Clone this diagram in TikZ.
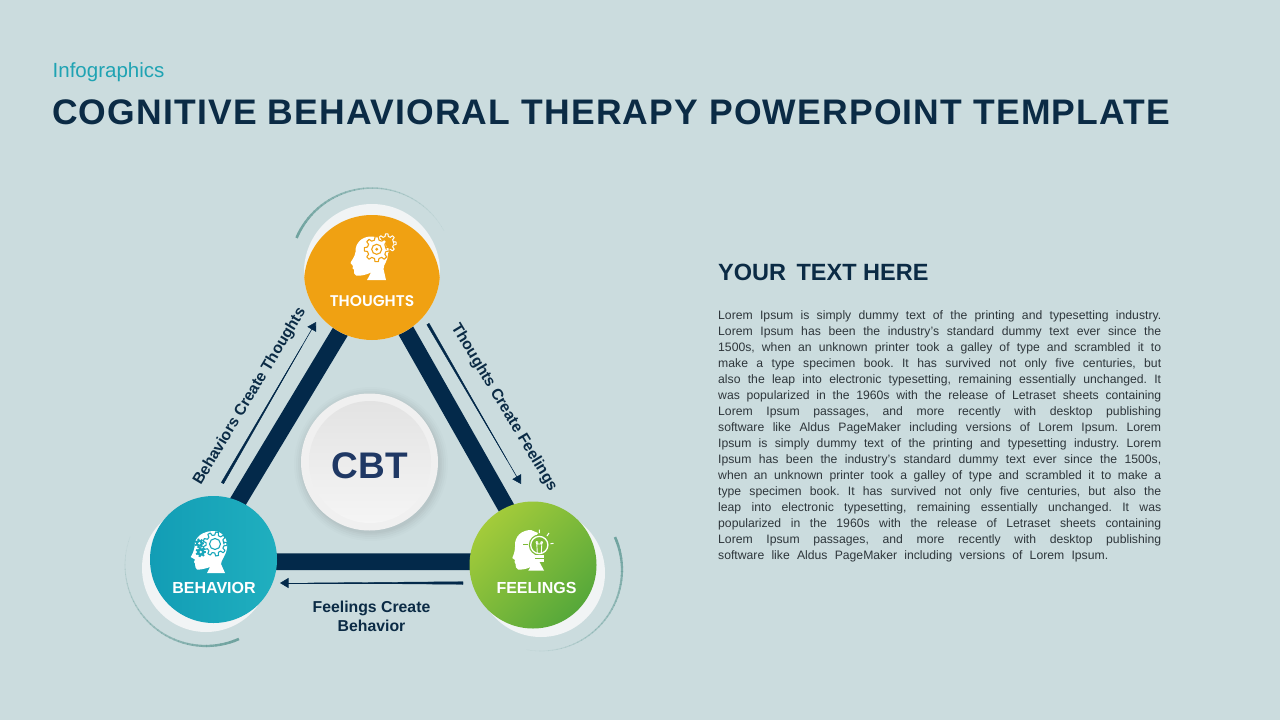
\documentclass[tikz,border=0pt]{standalone}
\usepackage{fontspec}
\setmainfont{Liberation Sans}
\newfontfamily\titlefont[LetterSpace=3.3]{Liberation Sans}
\newfontfamily\popfont[BoldFont={Poppins SemiBold}]{Poppins}
\usetikzlibrary{arrows.meta,calc}
\frenchspacing
\definecolor{bgc}{HTML}{CBDCDE}
\definecolor{navy}{HTML}{03294A}
\definecolor{titlec}{HTML}{0B2B45}
\definecolor{tealt}{HTML}{1FA3B3}
\definecolor{arcc}{HTML}{6FA39F}
\definecolor{bodyc}{HTML}{2E363B}
\definecolor{cbtc}{HTML}{1F3864}
\definecolor{orangec}{HTML}{F0A112}
\definecolor{tealc}{HTML}{17A6BA}
\definecolor{greenc}{HTML}{7DBB37}
\definecolor{greena}{HTML}{A3CB3A}
\definecolor{greenb}{HTML}{56A83A}
\definecolor{teala}{HTML}{129DB5}
\definecolor{tealb}{HTML}{20AFBF}
\definecolor{crescent}{HTML}{F1F4F5}
\tikzset{
  bar/.style={draw=navy,line width=16.8pt,shorten >=-5pt,shorten <=-5pt},
  thinarrow/.style={draw=navy,line width=0.6pt,-{Triangle[length=8.5pt,width=10pt]}},
  taper/.style={fill=navy,draw=navy,line width=0.4pt,line join=round},
  relabel/.style={font=\bfseries\fontsize{15.6}{19}\selectfont,text=titlec,inner sep=0pt},
  disc/.style={circle,inner sep=0pt,minimum size=#1},
  capname/.style={font=\bfseries\fontsize{16}{18}\selectfont,text=white,inner sep=0pt},
  iconfill/.style={fill=white,draw=none},
}
\newcommand{\jl}[1]{\hbox to 443pt{#1}}
\newcommand{\fadearc}[5]{%
  \foreach \i in {0,...,39}{%
    \pgfmathsetmacro{\aa}{#4+(#5-#4)*\i/40}%
    \pgfmathsetmacro{\ab}{#4+(#5-#4)*(\i+1.15)/40}%
    \pgfmathsetmacro{\op}{max(0.08,1-\i/40)}%
    \pgfmathsetmacro{\lw}{max(0.5,2.6-2.2*\i/40)}%
    \draw[arcc,opacity=\op,line width=\lw pt] ($(#1,#2)+(\aa:#3)$) -- ($(#1,#2)+(\ab:#3)$);
  }}
\newcommand{\gear}[8]{%
  \begin{scope}[shift={(#1,#2)}]
    \pgfmathsetmacro{\st}{360/#5}
    \draw[fill=#6,draw=#7,line width=#8pt,line join=round] (0:#4)
      \foreach \k in {1,...,#5}{
        \pgfextra{\pgfmathsetmacro{\t}{(\k-1)*\st}}
        -- (\t-0.30*\st:#4) -- (\t-0.17*\st:#3) -- (\t+0.17*\st:#3) -- (\t+0.30*\st:#4)
      } -- cycle;
  \end{scope}}
\newcommand{\headpath}{%
  (15.5,27) .. controls (15,18) and (22,11.5) .. (31,11.5) .. controls (40,11.5) and (48,18) .. (48,29)
  .. controls (48,36) and (43.5,39) .. (43.5,44) -- (46,55) -- (27,55)
  .. controls (28.5,52) and (30,50) .. (31,47.5) .. controls (27,49.5) and (20,51.5) .. (16,50.5)
  .. controls (13.5,50) and (14,47) .. (14,44.5) -- (12.5,43.5) -- (13,41) -- (12,39.8)
  -- (10.5,38) .. controls (11,36) and (15,32) .. (15.5,27) -- cycle}
\begin{document}
\begin{tikzpicture}[x=1pt,y=-1pt]
\useasboundingbox (0,0) rectangle (1280,720);
\fill[bgc] (0,0) rectangle (1280,720);

% heading
\node[anchor=base west,inner sep=0pt,text=tealt,font=\fontsize{20.5}{22}\selectfont] (kicker) at (52.5,77) {Infographics};
\node[anchor=base west,inner sep=0pt,text=titlec,font=\titlefont\bfseries\fontsize{35.5}{38}\selectfont] (title) at (52,124.5) {COGNITIVE BEHAVIORAL THERAPY POWERPOINT TEMPLATE};

% decorative arcs
\fadearc{372}{270}{82}{-157}{-29}{2.6}
\fadearc{206}{565}{81}{66}{200}{2.6}
\fadearc{541}{570}{81}{-24}{100}{2.6}

% anchors only, discs are painted later
\node[disc=136pt] (thoughts) at (372,272) {};
\node[disc=127pt] (behavior) at (213.5,559.5) {};
\node[disc=127pt] (feelings) at (533,565) {};

% bars
\draw[bar] (thoughts.242) -- (behavior.67);
\draw[bar] (thoughts.300) -- (feelings.115);
\draw[bar] (behavior.-2) -- (feelings.177);

% thoughts disc
\fill[crescent] (372,272) circle[radius=68];
\begin{scope}
  \clip (372,272) circle[radius=68];
  \fill[orangec] (372,283) circle[radius=68];
\end{scope}

% behavior disc
\fill[crescent] (206,568) circle[radius=64];
\shade[left color=teala,right color=tealb] (213.5,559.5) circle[radius=63.5];

% feelings disc
\fill[crescent] (541,573) circle[radius=64];
\shade[top color=greena,bottom color=greenb,shading angle=45] (533,565) circle[radius=63.5];

% CBT
\foreach \r/\o in {77/0.012,75/0.015,73/0.018,71/0.02,69.5/0.025}{
  \fill[black,opacity=\o] (371,464) circle[radius=\r];
}
\node[disc=137pt,fill=black!6] (cbt) at (369.5,462) {};
\shade[top color=black!11,bottom color=black!4] (370,462) circle[radius=61];
\node[inner sep=0pt,text=cbtc,font=\bfseries\fontsize{37}{40}\selectfont] (cbtlabel) at (370,466) {CBT};

% thoughts icon
\begin{scope}[shift={(340,225)}]
  \gear{46.7}{18.3}{9.5}{7}{8}{orangec}{white}{1}
  \fill[iconfill] \headpath;
  \gear{36.7}{24.3}{12.5}{9.5}{8}{white}{orangec}{1.1}
  \draw[orangec,line width=1.1pt] (36.7,24.3) circle[radius=5];
  \fill[orangec] (36.7,24.3) circle[radius=1.6];
\end{scope}
% behavior icon
\begin{scope}[shift={(180,520)}]
  \fill[iconfill] (15,22) .. controls (18,14) and (26,11) .. (33,11) .. controls (42,11) and (48,18) .. (47,28)
  .. controls (46,36) and (41,40) .. (41,44) -- (45,53) -- (27,53)
  .. controls (28,51) and (29,49) .. (30,47) .. controls (26,48.5) and (20,50) .. (17,49.5)
  .. controls (15,49) and (15.5,46) .. (15,43.5) -- (14,42) -- (15,39.5) -- (10.7,37)
  .. controls (12,35) and (15,30) .. (15,22) -- cycle;
  \gear{35}{24}{12}{9}{9}{white}{tealc}{1.1}
  \draw[tealc,line width=1.1pt] (35,24) circle[radius=5.5];
  \gear{19.3}{23.3}{4.6}{3.2}{7}{tealc}{tealc}{0.3}
  \fill[white] (19.3,23.3) circle[radius=1.3];
  \gear{20.7}{32}{5}{3.6}{7}{tealc}{tealc}{0.3}
  \fill[white] (20.7,32) circle[radius=1.4];
\end{scope}
% feelings icon
\begin{scope}[shift={(500,520)}]
  \fill[iconfill] (15,27) .. controls (14,16) and (22,10) .. (31,10) -- (38,13) -- (30,27) -- (40,43) -- (44,50.5) -- (28.3,50.5)
  .. controls (29,49.5) and (30,48.5) .. (30.5,47) .. controls (27,49) and (21,50) .. (18,49.5)
  .. controls (15.5,49) and (16,46) .. (15.5,44) -- (14.5,42) -- (15,40) -- (12.3,38)
  .. controls (13,36) and (15,32) .. (15,27) -- cycle;
  \draw[greenc,line width=0.9pt] (23,24) -- (28,24);
  \fill[greenc] (39.3,25) circle[radius=10.5];
  \draw[white,line width=1.3pt] (39.3,25) circle[radius=8.6];
  \draw[white,line width=0.9pt] (37.3,33) -- (36.8,24) .. controls (34.3,21) and (38.8,20.5) .. (37.8,24) -- (40.8,24) .. controls (39.8,20.5) and (44.3,21) .. (41.8,24) -- (41.3,33);
  \fill[white] (35,35) rectangle (43.6,41.5);
  \draw[greenc,line width=0.7pt] (35,38) -- (43.6,38);
  \draw[white,line width=1pt] (39.3,9.5) -- (39.3,13) (49,13) -- (47,16) (53.5,23.3) -- (50.5,23.8);
\end{scope}

% disc captions
\node[inner sep=0pt,text=white,font=\popfont\bfseries\fontsize{15.5}{18}\selectfont] (lthoughts) at (372,301) {THOUGHTS};
\node[capname] (lbehavior) at (214,588) {BEHAVIOR};
\node[capname] (lfeelings) at (536.5,588) {FEELINGS};

% thin arrows
\coordinate (ba) at (222.5,483);
\coordinate (bb) at (316,322);
\coordinate (ta) at (428,324);
\coordinate (tb) at (521,484);
\coordinate (fa) at (463,583);
\coordinate (fb) at (280,583);
\foreach \s/\e in {ba/bb,ta/tb,fa/fb}{
  \fill[taper] ($(\s)!1.3pt!90:(\e)$) -- ($(\s)!1.3pt!-90:(\e)$) -- ($(\s)!0.85!(\e)$) -- cycle;
  \draw[thinarrow] (\s) -- (\e);
}

% relation labels
\node[relabel,rotate=59] (lb) at (250,396.5) {Behaviors Create Thoughts};
\node[relabel,rotate=-59] (lt) at (504,407.5) {Thoughts Create Feelings};
\node[relabel,align=center,font=\bfseries\fontsize{15.8}{19}\selectfont] (lf) at (371.5,616.5) {Feelings Create\\Behavior};

% right column
\node[anchor=base west,inner sep=0pt,text=titlec,font=\bfseries\fontsize{23.5}{26}\selectfont] (yt) at (718,280) {YOUR\hspace{4pt} TEXT HERE};
\node[anchor=north west,inner sep=0pt,align=left,text=bodyc,font=\fontsize{12.2}{16}\selectfont] (body) at (718,310) {%
\jl{Lorem Ipsum is simply dummy text of the printing and typesetting industry.}\\
\jl{Lorem Ipsum has been the industry's standard dummy text ever since the}\\
\jl{1500s, when an unknown printer took a galley of type and scrambled it to}\\
\jl{make a type specimen book. It has survived not only five centuries, but}\\
\jl{also the leap into electronic typesetting, remaining essentially unchanged. It}\\
\jl{was popularized in the 1960s with the release of Letraset sheets containing}\\
\jl{Lorem Ipsum passages, and more recently with desktop publishing}\\
\jl{software like Aldus PageMaker including versions of Lorem Ipsum. Lorem}\\
\jl{Ipsum is simply dummy text of the printing and typesetting industry. Lorem}\\
\jl{Ipsum has been the industry's standard dummy text ever since the 1500s,}\\
\jl{when an unknown printer took a galley of type and scrambled it to make a}\\
\jl{type specimen book. It has survived not only five centuries, but also the}\\
\jl{leap into electronic typesetting, remaining essentially unchanged. It was}\\
\jl{popularized in the 1960s with the release of Letraset sheets containing}\\
\jl{Lorem Ipsum passages, and more recently with desktop publishing}\\
\hbox to 390pt{software like Aldus PageMaker including versions of Lorem Ipsum.}};
\end{tikzpicture}
\end{document}
